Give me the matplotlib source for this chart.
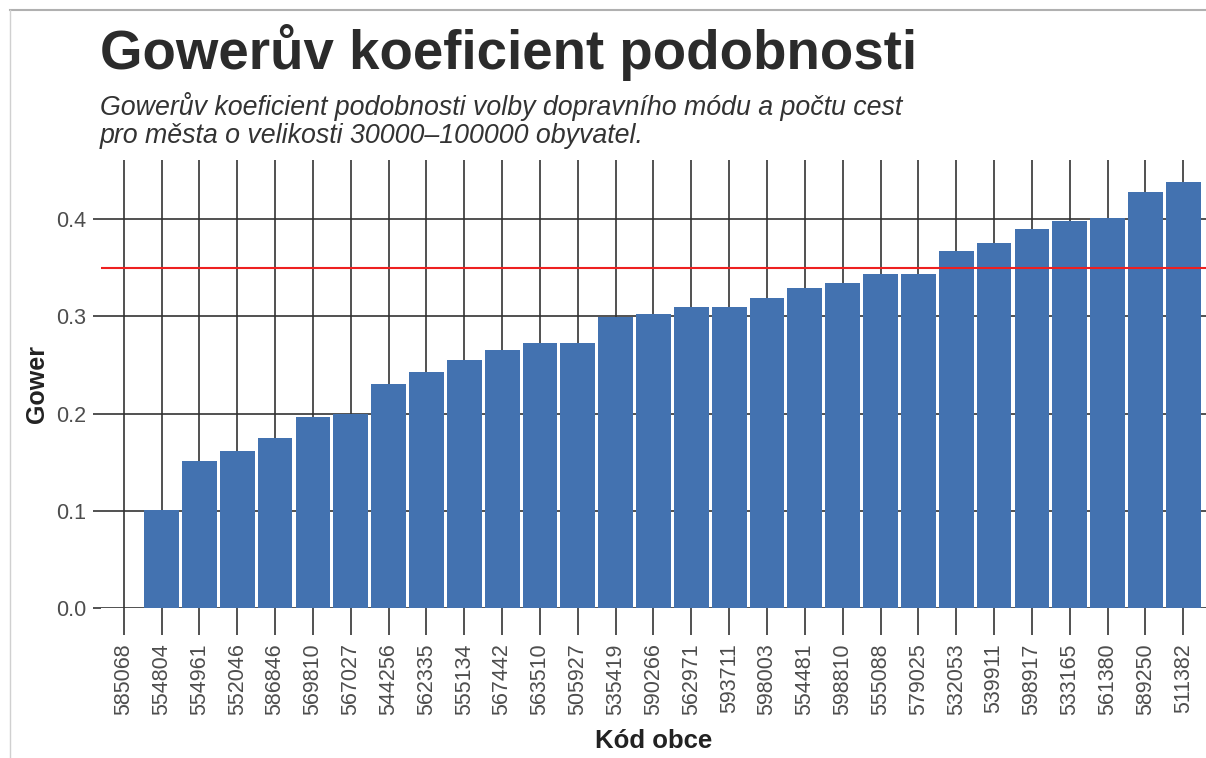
import matplotlib.pyplot as plt
from matplotlib.lines import Line2D

plt.rcParams['font.family'] = ['Liberation Sans', 'DejaVu Sans']

codes = ['585068', '554804', '554961', '552046', '586846', '569810', '567027',
         '544256', '562335', '555134', '567442', '563510', '505927', '535419',
         '590266', '562971', '593711', '598003', '554481', '598810', '555088',
         '579025', '532053', '539911', '598917', '533165', '561380', '589250',
         '511382']
gower = [0.0, 0.101, 0.151, 0.162, 0.175, 0.197, 0.200,
         0.230, 0.243, 0.255, 0.266, 0.273, 0.273, 0.299,
         0.303, 0.310, 0.310, 0.319, 0.329, 0.334, 0.344,
         0.344, 0.367, 0.376, 0.390, 0.398, 0.401, 0.428,
         0.438]
threshold = 0.35
yticks = [0.0, 0.1, 0.2, 0.3, 0.4]

fig = plt.figure(figsize=(12.06, 7.58), dpi=100)
ax = fig.add_axes([101 / 1206, 1 - 608 / 758, 1 - 101 / 1206, (608 - 160) / 758])

grid_col = '#333333'
x = list(range(len(codes)))
for xi in x:
    ax.axvline(xi, color=grid_col, lw=1.2, zorder=1)
for yt in yticks:
    ax.axhline(yt, color=grid_col, lw=1.2, zorder=1)

ax.bar(x, gower, width=0.92, color='#4372b0', zorder=2)
ax.axhline(threshold, color='#ee2020', lw=1.5, zorder=3)

ax.set_xlim(-0.6, 28.6)
ax.set_ylim(0, 0.461)
ax.set_xticks(x)
ax.set_xticklabels(codes, rotation=90, fontsize=15.5, color='#4d4d4d')
ax.set_yticks(yticks)
ax.set_yticklabels(['%.1f' % v for v in yticks], fontsize=15.5, color='#4d4d4d')
ax.tick_params(axis='x', length=19.5, width=1.2, color=grid_col, pad=6)
ax.tick_params(axis='y', length=6, width=1.2, color=grid_col, pad=4.5)
for s in ax.spines.values():
    s.set_visible(False)
ax.set_facecolor('none')

ax.set_xlabel('Kód obce', fontsize=18.5, fontweight='bold', color='#222222', labelpad=10)
ax.set_ylabel('Gower', fontsize=18, fontweight='bold', color='#222222', labelpad=5)

fig.text(100 / 1206, 1 - 69 / 758, 'Gowerův koeficient podobnosti', fontsize=39.3,
         fontweight='bold', color='#2b2b2b', ha='left', va='baseline')
fig.text(100 / 1206, 1 - 115 / 758,
         'Gowerův koeficient podobnosti volby dopravního módu a počtu cest',
         fontsize=19.3, style='italic', color='#333333', ha='left', va='baseline')
fig.text(100 / 1206, 1 - 143 / 758,
         'pro města o velikosti 30000–100000 obyvatel.',
         fontsize=19.3, style='italic', color='#333333', ha='left', va='baseline')

# screenshot frame
fig.add_artist(Line2D([10 / 1206, 1], [1 - 10 / 758, 1 - 10 / 758],
                      transform=fig.transFigure, color='#b0b0b0', lw=1.5))
fig.add_artist(Line2D([10 / 1206, 10 / 1206], [0, 1 - 10 / 758],
                      transform=fig.transFigure, color='#d0d0d0', lw=1))

fig.savefig('out.png', dpi=100)
